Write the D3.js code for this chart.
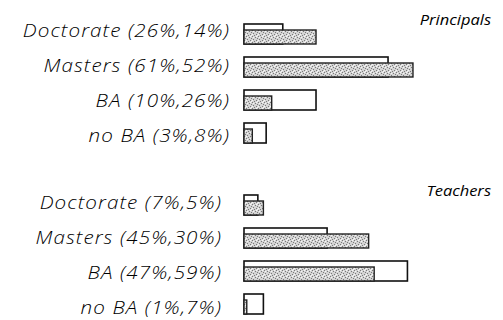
<!DOCTYPE html>
<html><head><meta charset="utf-8">
<script src="https://cdn.jsdelivr.net/npm/d3@7"></script>
<style>body{margin:0;background:#fff}svg{display:block}</style>
</head><body>
<script>
const categories = ["Doctorate", "Masters", "BA", "no BA"];
const principalsFirst = [26, 61, 10, 3];
const principalsSecond = [14, 52, 26, 8];
const teachersFirst = [7, 45, 47, 1];
const teachersSecond = [5, 30, 59, 7];
const panelTitles = ["Principals", "Teachers"];

const W = 503, H = 320;
const svg = d3.select("body").append("svg").attr("width", W).attr("height", H);

// speckled gray texture
const defs = svg.append("defs");
const pat = defs.append("pattern").attr("id", "tex").attr("patternUnits", "userSpaceOnUse")
  .attr("width", 6).attr("height", 6);
pat.append("rect").attr("width", 6).attr("height", 6).attr("fill", "#d4d4d4");
[[0,0],[3,1],[1,3],[4,4],[2,5],[5,2]].forEach(p => pat.append("rect").attr("x", p[0]).attr("y", p[1]).attr("width", 1).attr("height", 1).attr("fill", "#7a7a7a"));
[[1,1],[4,0],[0,4],[5,5]].forEach(p => pat.append("rect").attr("x", p[0]).attr("y", p[1]).attr("width", 1).attr("height", 1).attr("fill", "#f6f6f6"));

const x = d3.scaleLinear().domain([0, 100]).range([244, 521]);
const barH = 20, inset = 6;
const font = "'Open Sans', sans-serif";

const panels = [
  {title: panelTitles[0], first: principalsFirst, second: principalsSecond, bars: [34, 133], labels: [37, 142], labelX: 230, titleY: 25},
  {title: panelTitles[1], first: teachersFirst, second: teachersSecond, bars: [205, 304], labels: [209, 314], labelX: 222, titleY: 196}
];

panels.forEach(p => {
  const yb = d3.scalePoint().domain(categories).range(p.bars);
  const yl = d3.scalePoint().domain(categories).range(p.labels);
  const g = svg.append("g");
  g.append("text").attr("transform", `translate(491,${p.titleY}) scale(1.1,1)`).attr("text-anchor", "end")
    .attr("font-family", font).attr("font-style", "italic").attr("font-weight", 400).attr("font-size", 15).attr("fill", "#000")
    .text(p.title);
  categories.forEach((c, i) => {
    g.append("text").attr("transform", `translate(${p.labelX},${yl(c)}) scale(1.18,1)`).attr("text-anchor", "end")
      .attr("font-family", font).attr("font-style", "italic").attr("font-weight", 350).attr("font-size", 17.5)
      .attr("letter-spacing", 0.9).attr("fill", "#000")
      .text(`${c} (${p.first[i]}%,${p.second[i]}%)`);
    const top = yb(c) - barH / 2;
    g.append("rect").attr("x", x(0)).attr("y", top).attr("width", x(p.second[i]) - x(0)).attr("height", barH)
      .attr("fill", "#fff").attr("stroke", "#111").attr("stroke-width", 1.6);
    g.append("rect").attr("x", x(0)).attr("y", top + inset).attr("width", x(p.first[i]) - x(0)).attr("height", barH - inset)
      .attr("fill", "url(#tex)").attr("stroke", "#222").attr("stroke-width", 1.4);
  });
});
</script>
</body></html>
